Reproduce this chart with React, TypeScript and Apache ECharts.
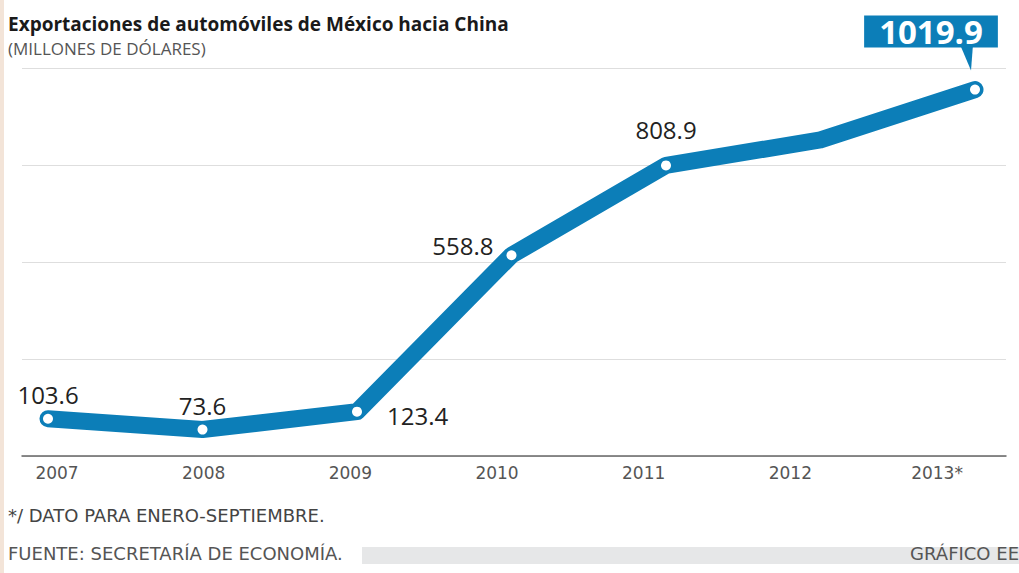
import React, { useEffect, useRef } from "react";
import * as echarts from "echarts";

const years = ["2007", "2008", "2009", "2010", "2011", "2012", "2013*"];
const values = [103.6, 73.6, 123.4, 558.8, 808.9, 880, 1019.9];
const showLabel = [true, true, true, true, true, false, true];
const showDot = [true, true, true, true, true, false, true];
const yTicks = [0, 270, 540, 810, 1080];

const title = "Exportaciones de automóviles de México hacia China";
const subtitle = "(MILLONES DE DÓLARES)";
const note = "*/ DATO PARA ENERO-SEPTIEMBRE.";
const source = "FUENTE: SECRETARÍA DE ECONOMÍA.";
const credit = "GRÁFICO EE";

const BLUE = "#0c7eb8";
const FONT = "'Open Sans', 'Liberation Sans', sans-serif";
const FONT2 = "'DejaVu Sans', sans-serif";

const labelStyles: any[] = [
  { position: "top", offset: [0, -2] },
  { position: "top", offset: [0, -2] },
  { position: "right", offset: [20, 4] },
  { position: "left", offset: [-8, -10] },
  { position: "top", offset: [0, -14] },
  {},
  {
    position: "top",
    offset: [-44, -32],
    backgroundColor: BLUE,
    color: "#fff",
    fontSize: 33,
    fontWeight: "bold",
    lineHeight: 32,
    padding: [0, 15],
  },
];

export default function App() {
  const ref = useRef<HTMLDivElement>(null);
  useEffect(() => {
    if (!ref.current) return;
    const chart = echarts.init(ref.current, null, { renderer: "svg" });
    const yMax = yTicks[yTicks.length - 1];
    const interval = yTicks[1] - yTicks[0];
    const gridCommon = { top: 68, bottom: 117 };
    const data = values.map((v, i) => ({
      value: v,
      symbol: showDot[i] ? "circle" : "none",
      label: showLabel[i]
        ? {
            show: true,
            color: "#222",
            fontSize: 24,
            fontFamily: FONT,
            ...labelStyles[i],
          }
        : { show: false },
    }));
    chart.setOption({
      animation: false,
      backgroundColor: "#fff",
      grid: [
        { left: 22, right: 13, ...gridCommon },
        { left: 48, right: 44, ...gridCommon },
        { left: 57, right: 82, ...gridCommon },
      ],
      xAxis: [
        {
          gridIndex: 0,
          type: "category",
          data: years,
          axisLine: { show: true, lineStyle: { color: "#666", width: 1.5 } },
          axisTick: { show: false },
          axisLabel: { show: false },
        },
        {
          gridIndex: 1,
          type: "category",
          data: years,
          boundaryGap: false,
          show: false,
        },
        {
          gridIndex: 2,
          type: "category",
          data: years,
          boundaryGap: false,
          axisLine: { show: false },
          axisTick: { show: false },
          axisLabel: {
            color: "#555",
            fontSize: 17,
            fontFamily: FONT2,
            margin: 8,
          },
        },
      ],
      yAxis: [
        {
          gridIndex: 0,
          type: "value",
          min: 0,
          max: yMax,
          interval,
          axisLabel: { show: false },
          axisLine: { show: false },
          axisTick: { show: false },
          splitLine: { lineStyle: { color: "#dedede", width: 1 } },
        },
        { gridIndex: 1, type: "value", min: 0, max: yMax, show: false, splitLine: { show: false } },
        { gridIndex: 2, type: "value", min: 0, max: yMax, show: false, splitLine: { show: false } },
      ],
      series: [
        {
          type: "line",
          xAxisIndex: 1,
          yAxisIndex: 1,
          data,
          symbol: "circle",
          symbolSize: 10,
          showAllSymbol: true,
          itemStyle: { color: "#fff", borderWidth: 0 },
          lineStyle: { color: BLUE, width: 17, cap: "round", join: "round" },
          z: 5,
        },
      ],
    });

    const last = values.length - 1;
    const pt = chart.convertToPixel({ gridIndex: 1 }, [last, values[last]]) as number[];
    chart.setOption({
      graphic: [
        { type: "rect", left: 0, top: 0, shape: { width: 4, height: 573 }, style: { fill: "#f3e4d8" } },
        {
          type: "text",
          left: 8,
          top: 14,
          style: { text: title, fill: "#1a1a1a", font: `bold 19px ${FONT}`, lineHeight: 20 },
        },
        {
          type: "text",
          left: 8,
          top: 39,
          style: { text: subtitle, fill: "#555", font: `17px ${FONT}`, lineHeight: 18 },
        },
        {
          type: "polygon",
          shape: {
            points: [
              [pt[0] - 15, pt[1] - 45],
              [pt[0] - 2, pt[1] - 45],
              [pt[0] - 4, pt[1] - 19],
            ],
          },
          style: { fill: BLUE },
          z: 10,
        },
        {
          type: "text",
          left: 8,
          top: 506,
          style: { text: note, fill: "#444", font: `18px ${FONT2}` },
        },
        {
          type: "rect",
          left: 362,
          top: 547,
          shape: { width: 657, height: 17 },
          style: { fill: "#e6e7e8" },
        },
        {
          type: "text",
          left: 8,
          top: 544,
          style: { text: source, fill: "#555", font: `18px ${FONT2}` },
        },
        {
          type: "text",
          right: 0,
          top: 544,
          style: { text: credit, fill: "#555", font: `18px ${FONT2}` },
        },
      ],
    });
    return () => chart.dispose();
  }, []);
  return (
    <div
      ref={ref}
      style={{ position: "fixed", left: 0, top: 0, width: 1019, height: 573 }}
    />
  );
}
